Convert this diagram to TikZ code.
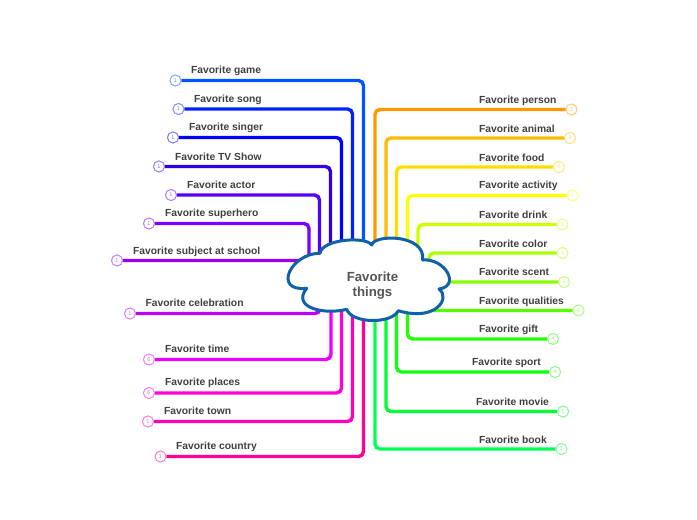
\documentclass[tikz,border=0pt]{standalone}
\usepackage{fontspec}
\setmainfont{Liberation Sans}
\tikzset{
  branchline/.style={line width=3.4pt,rounded corners=5pt},
  countdot/.style={circle,fill=white,line width=0.9pt,minimum size=11pt,inner sep=0pt,font=\fontsize{5.5}{6}\selectfont},
  topiclabel/.style={anchor=west,inner sep=0pt,text=black!75,font=\fontsize{10.3}{12}\selectfont\bfseries},
  cloudshape/.style={fill=white,draw=cloudblue,line width=3pt,line join=round},
  centrelabel/.style={align=center,text=black!67,font=\fontsize{13.2}{15.5}\selectfont\bfseries}
}
\definecolor{cloudblue}{HTML}{1061A8}
\begin{document}
\begin{tikzpicture}[x=1pt,y=-1pt]
\useasboundingbox (0,0) rectangle (697,520);
\foreach \id/\col/\cx/\yy/\vx/\ry/\n/\lx/\ly/\txt in {
  game/0055FF/175.5/80.5/363.5/280/1/191/70.5/Favorite game,
  song/0022FF/178.5/109/352.5/280/1/194/99.5/Favorite song,
  singer/0000FF/173/137.5/341.5/280/1/189/128/Favorite singer,
  tv/3300DD/159/166.5/330.5/280/1/175/157/Favorite TV Show,
  actor/5500FF/171/195/319.5/280/1/187/185/Favorite actor,
  hero/7700FF/149/223.5/309/280/1/165/214/Favorite superhero,
  subject/9900EE/117/260.5/320/260.5/1/133/251.5/Favorite subject at school,
  celeb/BB00FF/130/313.5/320/280/1/145.5/303/Favorite celebration,
  time/EE00FF/149/359.5/331/280/6/165/349/Favorite time,
  places/FF00DD/149/393/341.5/280/6/165/383/Favorite places,
  town/FF00BB/148/421.5/352.5/280/1/164/411/Favorite town,
  country/FF0099/160.5/456.5/363.5/280/1/176/447/Favorite country,
  person/FF9900/571.5/109.5/375/280/1/479/100.5/Favorite person,
  animal/FFBB00/570/138/386/280/4/479/128.5/Favorite animal,
  food/FFDD00/559/167/396.5/280/6/479/157.5/Favorite food,
  activity/FFFF00/572.5/195.5/407.5/280/1/479/186/Favorite activity,
  drink/CCFF00/562.5/224.5/418/280/1/479/215/Favorite drink,
  color/AAFF00/562.5/253/429/280/1/479/243.5/Favorite color,
  scent/88FF00/564/282/420/282/1/479/272/Favorite scent,
  qual/55FF00/578.5/310.5/420/310.5/4/479/301.5/Favorite qualities,
  gift/22FF00/553/339/407.5/280/4/479/329.5/Favorite gift,
  sport/11FF11/555/372/396.5/280/4/472/362.5/Favorite sport,
  movie/00FF33/563/411.5/386/280/1/476/402/Favorite movie,
  book/00FF55/561.5/449/375/280/1/479/440/Favorite book%
}{
  \definecolor{cur}{HTML}{\col}
  \coordinate (root-\id) at (\vx,\ry);
  \node[countdot,draw=cur!50,text=cur!60] (dot-\id) at (\cx,\yy) {\n};
  \node[topiclabel] (label-\id) at (\lx,\ly) {\txt};
  \draw[branchline,draw=cur] (dot-\id) -| (root-\id);
  \node[countdot,draw=cur!50,text=cur!60] at (dot-\id) {\n};
}
\draw[cloudshape] (320,253.3)
  .. controls (322,239) and (366,236) .. (371.7,245)
  .. controls (374,234) and (426,234) .. (422.7,260)
  .. controls (445,258) and (461,286) .. (439,289)
  .. controls (451,298) and (436,322) .. (398.3,310.7)
  .. controls (392,324) and (352,324) .. (346.7,309.3)
  .. controls (325,315) and (291,308) .. (306.7,288.3)
  .. controls (272,292) and (291,253) .. cycle;
\node[centrelabel] (centre) at (372.5,285.5) {Favorite\\things};
\end{tikzpicture}
\end{document}
